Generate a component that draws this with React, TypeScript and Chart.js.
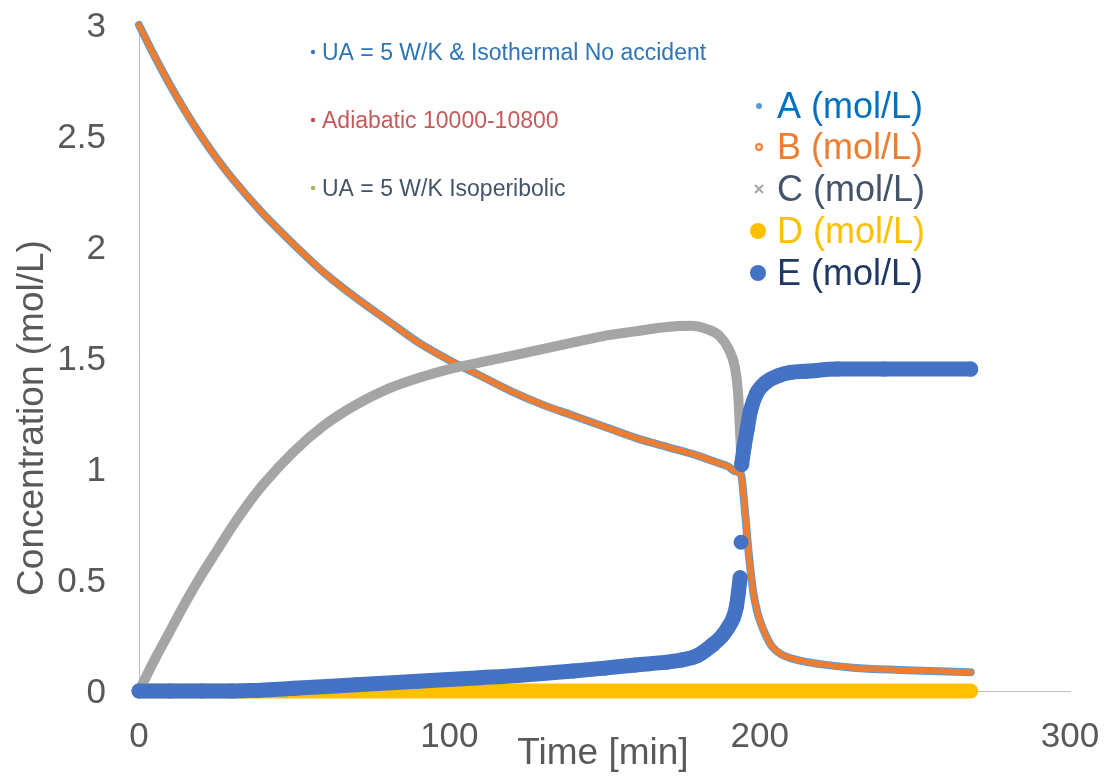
import React, { useEffect, useRef } from "react";
import { Chart, registerables } from "chart.js";

Chart.register(...registerables);

const FONT = "'Liberation Sans', Arial, sans-serif";

// Axis ranges / tick steps
const xRange = [0, 300];
const yRange = [0, 3];
const xStep = 100;
const yStep = 0.5;

const xTitle = "Time [min]";
const yTitle = "Concentration (mol/L)";

// A and B share a time grid (A lies under B)
const timeAB = [0, 5, 10, 15, 20, 25, 30, 40, 50, 60, 70, 80, 90, 100, 110, 120, 130, 140, 150, 160, 170, 180, 186, 190, 192, 194, 195, 196, 197, 198, 199, 200, 202, 204, 207, 212, 220, 230, 245, 268];
const concA = [3.0, 2.86, 2.73, 2.61, 2.5, 2.4, 2.31, 2.15, 2.01, 1.88, 1.77, 1.67, 1.57, 1.49, 1.42, 1.35, 1.29, 1.24, 1.19, 1.14, 1.1, 1.06, 1.03, 1.01, 0.99, 0.975, 0.85, 0.69, 0.55, 0.44, 0.37, 0.32, 0.25, 0.2, 0.165, 0.14, 0.12, 0.105, 0.095, 0.085];
const concB = [3.0, 2.86, 2.73, 2.61, 2.5, 2.4, 2.31, 2.15, 2.01, 1.88, 1.77, 1.67, 1.57, 1.49, 1.42, 1.35, 1.29, 1.24, 1.19, 1.14, 1.1, 1.06, 1.03, 1.01, 0.99, 0.975, 0.85, 0.69, 0.55, 0.44, 0.37, 0.32, 0.25, 0.2, 0.165, 0.14, 0.12, 0.105, 0.095, 0.085];

const timeC = [0, 5, 10, 15, 20, 25, 30, 35, 40, 50, 60, 70, 80, 90, 100, 110, 120, 130, 140, 150, 160, 170, 178, 183, 187, 190, 192, 193, 193.7, 194, 194.1, 197, 200, 230, 268];
const concC = [0, 0.14, 0.27, 0.4, 0.52, 0.63, 0.74, 0.84, 0.93, 1.08, 1.2, 1.29, 1.36, 1.41, 1.45, 1.48, 1.51, 1.54, 1.57, 1.6, 1.62, 1.64, 1.645, 1.63, 1.6, 1.54, 1.46, 1.35, 1.16, 1.08, null, 0.01, 0, 0, 0];

const timeD = [0, 50, 100, 150, 200, 250, 268];
const concD = [0, 0, 0, 0, 0, 0, 0];

const timeE = [0, 10, 20, 30, 36, 50, 70, 90, 110, 122, 140, 150, 160, 170, 175, 180, 185, 188, 190, 191.5, 192.5, 193.2, 193.7, 193.85, 194.0, 194.1, 194.2, 195, 196, 197, 199, 202, 206, 210, 215, 225, 240, 268];
const concE = [0, 0, 0, 0, 0.002, 0.012, 0.028, 0.044, 0.06, 0.07, 0.09, 0.103, 0.117, 0.13, 0.14, 0.16, 0.21, 0.25, 0.29, 0.33, 0.38, 0.45, 0.51, null, 0.67, null, 1.02, 1.1, 1.18, 1.26, 1.34, 1.39, 1.42, 1.435, 1.44, 1.45, 1.45, 1.45];

// Legend
const seriesLabels = ["A (mol/L)", "B (mol/L)", "C (mol/L)", "D (mol/L)", "E (mol/L)"];
const seriesColors = ["#5B9BD5", "#ED7D31", "#A5A5A5", "#FFC000", "#4472C4"];
const legendTextColors = ["#0070C0", "#ED7D31", "#44546A", "#FFC000", "#203864"];

// Text notes inside plot
const notes = ["UA = 5 W/K & Isothermal No accident", "Adiabatic 10000-10800", "UA = 5 W/K Isoperibolic"];
const noteTextColors = ["#2E75B6", "#C55A5A", "#44546A"];
const noteBulletColors = ["#4472C4", "#C0504D", "#9BBB59"];

const pts = (xs: number[], ys: (number | null)[]) => xs.map((x, i) => ({ x, y: ys[i] }));

const textPlugin = {
  id: "customTexts",
  afterDraw(chart: any) {
    const ctx = chart.ctx as CanvasRenderingContext2D;
    const xs = chart.scales.x;
    const ys = chart.scales.y;
    ctx.save();
    // tick labels
    ctx.fillStyle = "#595959";
    ctx.font = `35px ${FONT}`;
    ctx.textBaseline = "alphabetic";
    ctx.textAlign = "center";
    xs.ticks.forEach((t: any) => {
      ctx.fillText(String(t.value), xs.getPixelForValue(t.value), 747);
    });
    ctx.textAlign = "right";
    ys.ticks.forEach((t: any) => {
      ctx.fillText(String(t.value), 106, ys.getPixelForValue(t.value) + 12);
    });
    // axis titles
    ctx.font = `37px ${FONT}`;
    ctx.textAlign = "center";
    ctx.fillText(xTitle, 603, 764);
    ctx.save();
    ctx.translate(43, 418);
    ctx.rotate(-Math.PI / 2);
    ctx.fillText(yTitle, 0, 0);
    ctx.restore();

    // notes
    ctx.font = `23px ${FONT}`;
    ctx.textAlign = "left";
    const noteBase = [60, 128, 196];
    notes.forEach((n, i) => {
      ctx.fillStyle = noteBulletColors[i];
      ctx.beginPath();
      ctx.arc(313, noteBase[i] - 8, 2.2, 0, Math.PI * 2);
      ctx.fill();
      ctx.fillStyle = noteTextColors[i];
      ctx.fillText(n, 322, noteBase[i]);
    });

    // legend
    ctx.font = `36px ${FONT}`;
    const legBase = [118, 159, 201, 243, 285];
    seriesLabels.forEach((lab, i) => {
      const cy = legBase[i] - 12;
      const cx = 759;
      ctx.fillStyle = seriesColors[i];
      ctx.strokeStyle = seriesColors[i];
      if (i === 0) {
        ctx.beginPath();
        ctx.arc(cx, cy, 3, 0, Math.PI * 2);
        ctx.fill();
      } else if (i === 1) {
        ctx.beginPath();
        ctx.arc(cx, cy, 3, 0, Math.PI * 2);
        ctx.fillStyle = "#FBE5D6";
        ctx.fill();
        ctx.lineWidth = 1.8;
        ctx.stroke();
      } else if (i === 2) {
        ctx.lineWidth = 2;
        ctx.beginPath();
        ctx.moveTo(cx - 4, cy - 4);
        ctx.lineTo(cx + 4, cy + 4);
        ctx.moveTo(cx + 4, cy - 4);
        ctx.lineTo(cx - 4, cy + 4);
        ctx.stroke();
      } else {
        ctx.beginPath();
        ctx.arc(cx - 1, cy, 8, 0, Math.PI * 2);
        ctx.fill();
      }
      ctx.fillStyle = legendTextColors[i];
      ctx.fillText(lab, 777, legBase[i]);
    });
    ctx.restore();
  },
};

export default function App() {
  const ref = useRef<HTMLCanvasElement | null>(null);
  useEffect(() => {
    if (!ref.current) return;
    const common = {
      showLine: true,
      borderCapStyle: "round",
      borderJoinStyle: "round",
      pointBorderWidth: 0,
      clip: false,
      spanGaps: false,
      cubicInterpolationMode: "monotone",
    };
    const chart = new Chart(ref.current, {
      type: "scatter",
      data: {
        datasets: [
          { ...common, label: seriesLabels[4], data: pts(timeE, concE), borderColor: seriesColors[4], backgroundColor: seriesColors[4], borderWidth: 15, pointRadius: 7.5, order: 1 },
          { ...common, label: seriesLabels[3], data: pts(timeD, concD), borderColor: seriesColors[3], backgroundColor: seriesColors[3], borderWidth: 15, pointRadius: 0, order: 2 },
          { ...common, label: seriesLabels[2], data: pts(timeC, concC), borderColor: seriesColors[2], backgroundColor: seriesColors[2], borderWidth: 10, pointRadius: 0, order: 3 },
          { ...common, label: seriesLabels[1], data: pts(timeAB, concB), borderColor: seriesColors[1], backgroundColor: seriesColors[1], borderWidth: 6, pointRadius: 0, order: 4 },
          { ...common, label: seriesLabels[0], data: pts(timeAB, concA), borderColor: seriesColors[0], backgroundColor: seriesColors[0], borderWidth: 8, pointRadius: 0, order: 5 },
        ] as any,
      },
      options: {
        animation: false,
        responsive: true,
        maintainAspectRatio: false,
        events: [],
        layout: { padding: { left: 139, right: 35, top: 25, bottom: 87 } },
        plugins: { legend: { display: false }, tooltip: { enabled: false } },
        scales: {
          x: {
            type: "linear",
            min: xRange[0],
            max: xRange[1],
            ticks: { display: false, stepSize: xStep },
            grid: { display: false, drawTicks: false },
            border: { display: true, color: "#BFBFBF", width: 1 },
          },
          y: {
            type: "linear",
            min: yRange[0],
            max: yRange[1],
            ticks: { display: false, stepSize: yStep },
            grid: { display: false, drawTicks: false },
            border: { display: true, color: "#BFBFBF", width: 1 },
          },
        },
      } as any,
      plugins: [textPlugin],
    });
    return () => chart.destroy();
  }, []);
  return (
    <div style={{ position: "fixed", left: 0, top: 0, width: 1105, height: 778, background: "#fff" }}>
      <canvas ref={ref} />
    </div>
  );
}
